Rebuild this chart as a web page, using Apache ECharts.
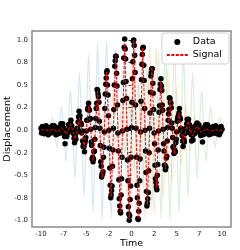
<!DOCTYPE html>
<html><head><meta charset="utf-8">
<script src="https://cdn.jsdelivr.net/npm/echarts@6/dist/echarts.min.js"></script>
<style>html,body{margin:0;padding:0;background:#fff}#c{width:240px;height:250px}</style>
</head><body><div id="c"></div>
<script>
// sample times of the noisy data (step 0.05)
var tData = [-10,-9.95,-9.9,-9.85,-9.8,-9.75,-9.7,-9.65,-9.6,-9.55,-9.5,-9.45,-9.4,-9.35,-9.3,-9.25,-9.2,-9.15,-9.1,-9.05,
-9,-8.95,-8.9,-8.85,-8.8,-8.75,-8.7,-8.65,-8.6,-8.55,-8.5,-8.45,-8.4,-8.35,-8.3,-8.25,-8.2,-8.15,-8.1,-8.05,
-8,-7.95,-7.9,-7.85,-7.8,-7.75,-7.7,-7.65,-7.6,-7.55,-7.5,-7.45,-7.4,-7.35,-7.3,-7.25,-7.2,-7.15,-7.1,-7.05,
-7,-6.95,-6.9,-6.85,-6.8,-6.75,-6.7,-6.65,-6.6,-6.55,-6.5,-6.45,-6.4,-6.35,-6.3,-6.25,-6.2,-6.15,-6.1,-6.05,
-6,-5.95,-5.9,-5.85,-5.8,-5.75,-5.7,-5.65,-5.6,-5.55,-5.5,-5.45,-5.4,-5.35,-5.3,-5.25,-5.2,-5.15,-5.1,-5.05,
-5,-4.95,-4.9,-4.85,-4.8,-4.75,-4.7,-4.65,-4.6,-4.55,-4.5,-4.45,-4.4,-4.35,-4.3,-4.25,-4.2,-4.15,-4.1,-4.05,
-4,-3.95,-3.9,-3.85,-3.8,-3.75,-3.7,-3.65,-3.6,-3.55,-3.5,-3.45,-3.4,-3.35,-3.3,-3.25,-3.2,-3.15,-3.1,-3.05,
-3,-2.95,-2.9,-2.85,-2.8,-2.75,-2.7,-2.65,-2.6,-2.55,-2.5,-2.45,-2.4,-2.35,-2.3,-2.25,-2.2,-2.15,-2.1,-2.05,
-2,-1.95,-1.9,-1.85,-1.8,-1.75,-1.7,-1.65,-1.6,-1.55,-1.5,-1.45,-1.4,-1.35,-1.3,-1.25,-1.2,-1.15,-1.1,-1.05,
-1,-0.95,-0.9,-0.85,-0.8,-0.75,-0.7,-0.65,-0.6,-0.55,-0.5,-0.45,-0.4,-0.35,-0.3,-0.25,-0.2,-0.15,-0.1,-0.05,
0,0.05,0.1,0.15,0.2,0.25,0.3,0.35,0.4,0.45,0.5,0.55,0.6,0.65,0.7,0.75,0.8,0.85,0.9,0.95,
1,1.05,1.1,1.15,1.2,1.25,1.3,1.35,1.4,1.45,1.5,1.55,1.6,1.65,1.7,1.75,1.8,1.85,1.9,1.95,
2,2.05,2.1,2.15,2.2,2.25,2.3,2.35,2.4,2.45,2.5,2.55,2.6,2.65,2.7,2.75,2.8,2.85,2.9,2.95,
3,3.05,3.1,3.15,3.2,3.25,3.3,3.35,3.4,3.45,3.5,3.55,3.6,3.65,3.7,3.75,3.8,3.85,3.9,3.95,
4,4.05,4.1,4.15,4.2,4.25,4.3,4.35,4.4,4.45,4.5,4.55,4.6,4.65,4.7,4.75,4.8,4.85,4.9,4.95,
5,5.05,5.1,5.15,5.2,5.25,5.3,5.35,5.4,5.45,5.5,5.55,5.6,5.65,5.7,5.75,5.8,5.85,5.9,5.95,
6,6.05,6.1,6.15,6.2,6.25,6.3,6.35,6.4,6.45,6.5,6.55,6.6,6.65,6.7,6.75,6.8,6.85,6.9,6.95,
7,7.05,7.1,7.15,7.2,7.25,7.3,7.35,7.4,7.45,7.5,7.55,7.6,7.65,7.7,7.75,7.8,7.85,7.9,7.95,
8,8.05,8.1,8.15,8.2,8.25,8.3,8.35,8.4,8.45,8.5,8.55,8.6,8.65,8.7,8.75,8.8,8.85,8.9,8.95,
9,9.05,9.1,9.15,9.2,9.25,9.3,9.35,9.4,9.45,9.5,9.55,9.6,9.65,9.7,9.75,9.8,9.85,9.9,9.95,
10];
// noisy measured displacement (black dots)
var yData = [0.02,-0.03,0.01,0.04,-0.02,-0.01,0.03,-0.04,0,0.02,-0.03,0.05,-0.01,-0.02,0.03,0.01,-0.05,0.02,0,-0.02,
-0.01,0.03,-0.03,0.03,0.01,0.05,-0.01,0.02,-0.02,0.05,0.01,-0.03,0.02,-0.05,0,-0.03,-0.02,0.03,-0.04,0,
0.03,0.01,0,-0.03,0.07,0.04,0.02,0.04,0.07,-0.02,0.02,-0.01,-0.07,-0.15,-0.05,0,-0.02,-0.07,-0.02,-0.03,
-0.02,0.06,0.06,0.04,0.03,0.07,0.11,0.03,0.05,-0.02,0,0,-0.04,-0.09,-0.14,-0.08,-0.06,-0.1,-0.02,-0.02,
0.02,0.01,0.09,0.15,0.21,0.13,0.16,0.07,0.08,0.06,-0.03,-0.01,-0.12,-0.18,-0.16,-0.18,-0.24,-0.14,-0.11,-0.08,
-0.01,0.11,0.11,0.23,0.25,0.3,0.23,0.22,0.12,0.13,0.01,-0.13,-0.17,-0.32,-0.3,-0.35,-0.32,-0.24,-0.23,-0.1,
0.03,0.13,0.24,0.3,0.45,0.44,0.4,0.37,0.31,0.1,0.02,-0.17,-0.35,-0.4,-0.52,-0.49,-0.49,-0.46,-0.3,-0.19,
-0.02,0.24,0.4,0.51,0.58,0.64,0.66,0.5,0.39,0.16,0,-0.2,-0.42,-0.61,-0.75,-0.72,-0.67,-0.62,-0.4,-0.22,
0.02,0.23,0.5,0.71,0.77,0.82,0.82,0.63,0.49,0.28,-0.03,-0.23,-0.55,-0.76,-0.84,-0.9,-0.92,-0.72,-0.54,-0.3,
-0.01,0.33,0.53,0.8,0.92,1.01,0.9,0.79,0.54,0.35,0.01,-0.33,-0.56,-0.85,-0.93,-1,-0.95,-0.77,-0.62,-0.3,
0.03,0.31,0.57,0.76,0.99,1,0.94,0.83,0.64,0.28,0.02,-0.3,-0.61,-0.75,-0.98,-0.99,-0.9,-0.81,-0.56,-0.32,
-0.02,0.32,0.56,0.73,0.84,0.91,0.92,0.72,0.55,0.24,0,-0.23,-0.47,-0.68,-0.84,-0.81,-0.76,-0.69,-0.45,-0.25,
0.02,0.19,0.42,0.6,0.64,0.68,0.68,0.52,0.41,0.23,-0.03,-0.15,-0.39,-0.54,-0.58,-0.63,-0.66,-0.5,-0.38,-0.22,
-0.01,0.2,0.27,0.45,0.51,0.57,0.49,0.44,0.28,0.22,0.01,-0.15,-0.23,-0.39,-0.39,-0.44,-0.41,-0.31,-0.29,-0.12,
0.03,0.11,0.18,0.23,0.36,0.35,0.31,0.3,0.25,0.08,0.02,-0.08,-0.19,-0.18,-0.26,-0.22,-0.23,-0.24,-0.14,-0.1,
-0.02,0.1,0.13,0.15,0.16,0.19,0.24,0.14,0.12,0.02,0,-0.01,-0.06,-0.12,-0.18,-0.12,-0.1,-0.13,-0.04,-0.03,
0.02,0,0.07,0.12,0.07,0.09,0.12,0.04,0.06,0.05,-0.03,0.03,-0.05,-0.12,-0.03,-0.06,-0.11,-0.03,-0.04,-0.04,
-0.01,0.04,-0.01,0.06,0.04,0.08,0.02,0.05,0,0.06,0.01,-0.03,0.01,-0.06,-0.01,-0.04,-0.03,-0.13,-0.05,0,
0.03,0.01,-0.01,-0.04,0.06,0.03,0.01,0.03,0.06,-0.02,0.02,0,-0.05,0.02,-0.02,0.03,0.01,-0.04,0,-0.02,
-0.02,0.04,0.02,-0.01,-0.03,0,0.05,-0.02,0.01,-0.04,0,0.03,0.02,-0.01,-0.05,0.02,0.03,-0.02,0.04,0.01,
0.01];
// times for the curves (step 0.25)
var tLine = [-10,-9.75,-9.5,-9.25,-9,-8.75,-8.5,-8.25,-8,-7.75,-7.5,-7.25,-7,-6.75,-6.5,-6.25,-6,-5.75,-5.5,-5.25,
-5,-4.75,-4.5,-4.25,-4,-3.75,-3.5,-3.25,-3,-2.75,-2.5,-2.25,-2,-1.75,-1.5,-1.25,-1,-0.75,-0.5,-0.25,
0,0.25,0.5,0.75,1,1.25,1.5,1.75,2,2.25,2.5,2.75,3,3.25,3.5,3.75,4,4.25,4.5,4.75,
5,5.25,5.5,5.75,6,6.25,6.5,6.75,7,7.25,7.5,7.75,8,8.25,8.5,8.75,9,9.25,9.5,9.75,10];
// clean signal (red dashed)
var ySignal = [0,0.004,0,-0.006,0,0.01,0,-0.017,0,0.028,0,-0.044,0,0.066,0,-0.098,0,0.14,0,-0.194,
0,0.261,0,-0.341,0,0.433,0,-0.533,0,0.638,0,-0.74,0,0.833,0,-0.911,0,0.967,0,-0.996,
0,0.996,0,-0.967,0,0.911,0,-0.833,0,0.7,0,-0.638,0,0.533,0,-0.433,0,0.341,0,-0.261,
0,0.194,0,-0.14,0,0.098,0,-0.066,0,0.044,0,-0.028,0,0.017,0,-0.01,0,0.006,0,-0.004,0];
// faint background curves
var yBlue = [0,0.066,0,-0.098,0,0.14,0,-0.194,0,0.261,0,-0.341,0,0.433,0,-0.533,0,0.638,0,-0.74,
0,0.833,0,-0.911,0,0.967,0,-0.996,0,0.996,0,-0.967,0,0.911,0,-0.833,0,0.74,0,-0.638,
0,0.533,0,-0.433,0,0.341,0,-0.261,0,0.194,0,-0.14,0,0.098,0,-0.066,0,0.044,0,-0.028,
0,0.017,0,-0.01,0,0.006,0,-0.004,0,0,0,0,0,0,0,0,0,0,0,0,0];
var yOrange = [0,0,0,0,0,0,0,0,0.005,0,-0.008,0,0.014,0,-0.022,0,0.035,0,-0.054,0,
0.081,0,-0.117,0,0.165,0,-0.226,0,0.3,0,-0.386,0,0.482,0,-0.585,0,0.689,0,-0.788,0,
0.874,0,-0.942,0,0.985,0,-1,0,0.985,0,-0.942,0,0.874,0,-0.788,0,0.689,0,-0.585,0,
0.482,0,-0.386,0,0.3,0,-0.226,0,0.165,0,-0.117,0,0.081,0,-0.054,0,0.035,0,-0.022,0,0.014];
var yGreen = [0,0,0,0,0,0,0,0,0,0,0,0,0,0,0,0,0,0,0,0.006,
0,-0.01,0,0.017,0,-0.028,0,0.044,0,-0.066,0,0.098,0,-0.14,0,0.194,0,-0.261,0,0.341,
0,-0.433,0,0.533,0,-0.638,0,0.74,0,-0.833,0,0.911,0,-0.967,0,0.996,0,-0.996,0,0.967,
0,-0.911,0,0.833,0,-0.74,0,0.638,0,-0.533,0,0.433,0,-0.341,0,0.261,0,-0.194,0,0.14,0];
var xTicks = [-10,-7.5,-5,-2.5,0,2.5,5,7.5,10];
var xTickLabels = ['-10','-7','-5','-2','0','2','5','7','10'];
var yTicks = [-1,-0.75,-0.5,-0.25,0,0.25,0.5,0.75,1];
var yTickLabels = ['-1.0','-0.8','-0.5','-0.2','0.0','0.2','0.5','0.8','1.0'];

function pairs(xs, ys){ return xs.map(function(x,i){ return [x, ys[i]]; }); }
function lab(ticks, labels){ return function(v){ for (var i=0;i<ticks.length;i++){ if (Math.abs(ticks[i]-v)<1e-6) return labels[i]; } return ''; }; }

var chart = echarts.init(document.getElementById('c'), null, {renderer:'canvas'});
var font = 'DejaVu Sans';
chart.setOption({
  animation:false,
  textStyle:{fontFamily:font},
  grid:{left:32,right:9,top:31,bottom:23,outerBoundsMode:'none',containLabel:false,show:true,borderColor:'#8a8a8a',borderWidth:1.5,backgroundColor:'#fff'},
  legend:{
    data:[{name:'Data',itemStyle:{color:'#000'}},{name:'Signal',itemStyle:{opacity:0}}], orient:'vertical', right:11, top:33,
    backgroundColor:'rgba(255,255,255,0.85)', borderColor:'#d0d0d0', borderWidth:1, borderRadius:3,
    padding:[4,7,4,4], itemGap:3, itemWidth:21, itemHeight:6,
    textStyle:{fontFamily:font,fontSize:9.5,color:'#000'}
  },
  xAxis:{type:'value',min:-11,max:11,name:'Time',nameLocation:'middle',nameGap:12,nameMoveOverlap:false,
    nameTextStyle:{fontFamily:font,fontSize:9.5,color:'#000'},
    axisLine:{show:false},splitLine:{show:false},
    axisTick:{show:true,length:3,customValues:xTicks,lineStyle:{color:'#333'}},
    axisLabel:{customValues:xTicks,formatter:lab(xTicks,xTickLabels),fontFamily:font,fontSize:7,color:'#222',margin:4}},
  yAxis:{type:'value',min:-1.074,max:1.1,name:'Displacement',nameLocation:'middle',nameGap:19,nameMoveOverlap:false,
    nameTextStyle:{fontFamily:font,fontSize:9.5,color:'#000'},
    axisLine:{show:false},splitLine:{show:false},
    axisTick:{show:true,length:3,customValues:yTicks,lineStyle:{color:'#333'}},
    axisLabel:{customValues:yTicks,formatter:lab(yTicks,yTickLabels),fontFamily:font,fontSize:7,color:'#222',margin:4}},
  series:[
    {name:'b',type:'line',data:pairs(tLine,yBlue),symbol:'none',smooth:0.3,lineStyle:{color:'#1f77b4',width:1.2,opacity:0.18},silent:true,z:1},
    {name:'o',type:'line',data:pairs(tLine,yOrange),symbol:'none',smooth:0.3,lineStyle:{color:'#ff7f0e',width:1.2,opacity:0.18},silent:true,z:1},
    {name:'g',type:'line',data:pairs(tLine,yGreen),symbol:'none',smooth:0.3,lineStyle:{color:'#2ca02c',width:1.2,opacity:0.18},silent:true,z:1},
    {name:'Data',type:'scatter',data:pairs(tData,yData),symbol:'circle',symbolSize:5.5,itemStyle:{color:'#000',opacity:1},z:3},
    {name:'Signal',type:'line',data:pairs(tLine,ySignal),symbol:'none',showSymbol:false,lineStyle:{color:'#ff0000',width:1,type:[3,1.5]},itemStyle:{color:'#ff0000'},z:4}
  ]
});
</script></body></html>
